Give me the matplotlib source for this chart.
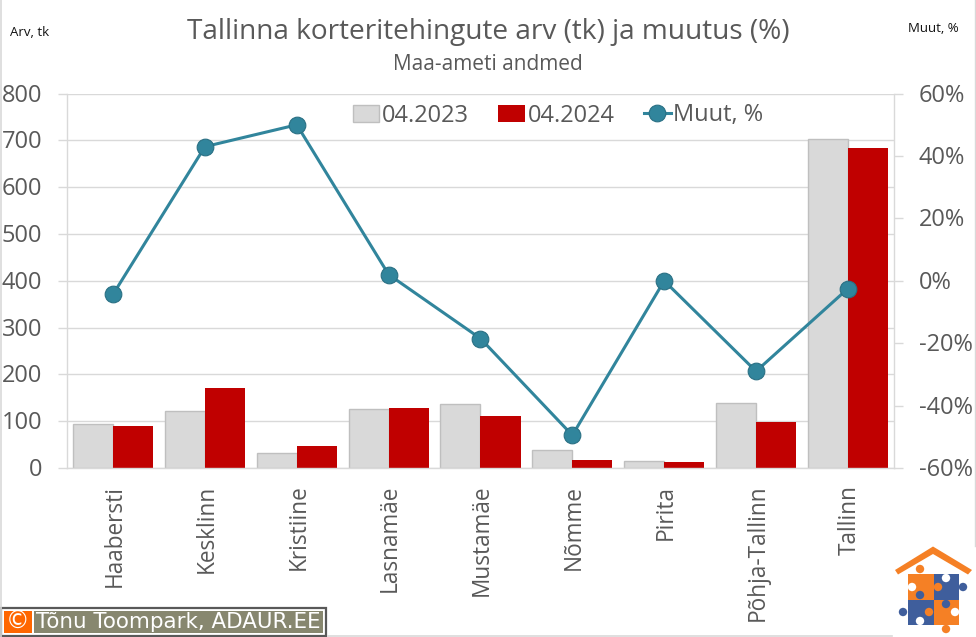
import matplotlib
matplotlib.use("Agg")
import matplotlib.pyplot as plt
from matplotlib.patches import Rectangle, Polygon, Ellipse
from matplotlib.lines import Line2D
from matplotlib.transforms import ScaledTranslation

categories = ["Haabersti", "Kesklinn", "Kristiine", "Lasnamäe", "Mustamäe", "Nõmme", "Pirita", "Põhja-Tallinn", "Tallinn"]
values_2023 = [94, 122, 32, 126, 137, 38, 15, 138, 703]
values_2024 = [90, 172, 48, 129, 112, 18, 13, 98, 684]
change_pct = [-4.3, 43, 50, 2, -18.5, -49.5, 0, -29, -2.5]
left_ticks = [0, 100, 200, 300, 400, 500, 600, 700, 800]
right_ticks = [-60, -40, -20, 0, 20, 40, 60]

W, H = 976, 637
plt.rcParams['font.family'] = ['Open Sans', 'DejaVu Sans']
TXT = '#595959'
GRID = '#D9D9D9'
LW = 1.0
fig = plt.figure(figsize=(W/100, H/100), dpi=100, facecolor='white')

def fx(x): return x/W
def fy(y): return 1-y/H

ax = fig.add_axes([fx(67.2), fy(468), (893.8-67.2)/W, (468-93.6)/H])
x = list(range(len(categories)))
bw = 0.436
ax.bar([i-bw/2 for i in x], values_2023, bw, color='#D9D9D9', edgecolor='#BFBFBF', linewidth=1.0, label='04.2023', zorder=2)
ax.bar([i+bw/2 for i in x], values_2024, bw, color='#C00000', label='04.2024', zorder=2)
ax.set_xlim(-0.5, 8.5)
ax.set_ylim(0, 800)
ax.set_yticks(left_ticks)
ax.set_xticks(x)
ax.set_xticklabels(categories, rotation=90, fontsize=16.3, color=TXT)
ax.tick_params(axis='x', length=0, pad=12)
ax.tick_params(axis='y', length=6.5, width=LW, color=GRID, labelsize=17, labelcolor=TXT, pad=11.5)
shift = ScaledTranslation(1.5/100, 0, fig.dpi_scale_trans)
for lab in ax.get_xticklabels():
    lab.set_transform(lab.get_transform() + shift)
shift_up = ScaledTranslation(0, 1/100, fig.dpi_scale_trans)
for lab in ax.get_yticklabels():
    lab.set_transform(lab.get_transform() + shift_up)
ax.yaxis.grid(True, color=GRID, linewidth=LW, zorder=0)
ax.set_axisbelow(True)
for s in ['top', 'right']:
    ax.spines[s].set_visible(False)
for s in ['left', 'bottom']:
    ax.spines[s].set_color(GRID)
    ax.spines[s].set_linewidth(LW)

ax2 = ax.twinx()
ax2.plot(x, change_pct, color='#31859C', linewidth=2.2, marker='o', markersize=12,
         markerfacecolor='#31859C', markeredgecolor='#2A7084', markeredgewidth=0.8, label='Muut, %', zorder=5)
ax2.set_ylim(-60, 60)
ax2.set_yticks(right_ticks)
ax2.set_yticklabels([f"{v}%" for v in right_ticks], ha='left')
ax2.tick_params(axis='y', length=6.5, width=LW, color=GRID, labelsize=17, labelcolor=TXT, pad=11.5)
for lab in ax2.get_yticklabels():
    lab.set_transform(lab.get_transform() + shift_up)
for s in ['top', 'left', 'bottom']:
    ax2.spines[s].set_visible(False)
ax2.spines['right'].set_color(GRID)
ax2.spines['right'].set_linewidth(LW)

# legend
h1, l1 = ax.get_legend_handles_labels()
h2, l2 = ax2.get_legend_handles_labels()
leg = ax2.legend(h1+h2, l1+l2, ncol=3, loc='center', bbox_to_anchor=((558-67.2)/826.6, (468-115.5)/374.4),
                 frameon=False, fontsize=17, handlelength=1.12, handletextpad=0.12,
                 columnspacing=1.25, borderpad=0, borderaxespad=0, labelcolor=TXT)

fig.text(fx(488), fy(32), "Tallinna korteritehingute arv (tk) ja muutus (%)", ha='center', va='center', fontsize=20.2, color=TXT)
fig.text(fx(488), fy(64), "Maa-ameti andmed", ha='center', va='center', fontsize=15, color=TXT)
fig.text(fx(10), fy(33), "Arv, tk", ha='left', va='center', fontsize=9.5, color='#111111')
fig.text(fx(908), fy(29), "Muut, %", ha='left', va='center', fontsize=9.5, color='#111111')

# credit box
fig.add_artist(Rectangle((fx(1), fy(636)), 325/W, 28/H, transform=fig.transFigure, facecolor='white', edgecolor='#595959', linewidth=1.6))
fig.add_artist(Rectangle((fx(4), fy(633)), 28/W, 22/H, transform=fig.transFigure, facecolor='#FF6600', edgecolor='none'))
fig.add_artist(Rectangle((fx(34), fy(633)), 289/W, 22/H, transform=fig.transFigure, facecolor='#87876F', edgecolor='none'))
fig.text(fx(18), fy(621.5), "©", ha='center', va='center', fontsize=17, color='white', family='DejaVu Sans')
fig.text(fx(36), fy(621.5), "Tõnu Toompark, ADAUR.EE", ha='left', va='center', fontsize=15.4, color='white', family='DejaVu Sans')

# outer border
fig.add_artist(Line2D([fx(0.5), fx(0.5)], [fy(0), fy(637)], color=GRID, lw=1.2, transform=fig.transFigure))
fig.add_artist(Line2D([fx(975), fx(975)], [fy(0), fy(546)], color=GRID, lw=1.0, transform=fig.transFigure))
fig.add_artist(Line2D([fx(328), fx(892)], [fy(636), fy(636)], color=GRID, lw=1.2, transform=fig.transFigure))

# logo
orange, blue = '#F58025', '#3F5E9C'
def rect(x0, y0, x1, y1, c):
    fig.add_artist(Rectangle((fx(x0), fy(y1)), (x1-x0)/W, (y1-y0)/H, transform=fig.transFigure, facecolor=c, edgecolor='none'))
def circ(cx, cy, c, r=4.2):
    fig.add_artist(Ellipse((fx(cx), fy(cy)), 2*r/W, 2*r/H, transform=fig.transFigure, facecolor=c, edgecolor='none'))
fig.add_artist(Polygon([(fx(895), fy(570)), (fx(933), fy(546.5)), (fx(972), fy(570)), (fx(968), fy(574.5)),
                        (fx(933), fy(554)), (fx(898), fy(574.5))],
                       closed=True, transform=fig.transFigure, facecolor=orange, edgecolor='none'))
rect(908, 574, 933.5, 599.5, orange)
rect(933.5, 574, 959, 599.5, blue)
rect(908, 599.5, 933.5, 625, blue)
rect(933.5, 599.5, 959, 625, orange)
for cx, cy, c in [(920, 569, orange), (946, 578, 'white'), (912, 587, 'white'), (938, 587, orange),
                  (963, 587, blue), (920, 595, blue), (946, 604, blue), (903, 612, blue),
                  (929, 612, orange), (955, 612, 'white'), (920, 621, 'white'), (946, 629, orange)]:
    circ(cx, cy, c)

fig.savefig('out.png', dpi=100)
